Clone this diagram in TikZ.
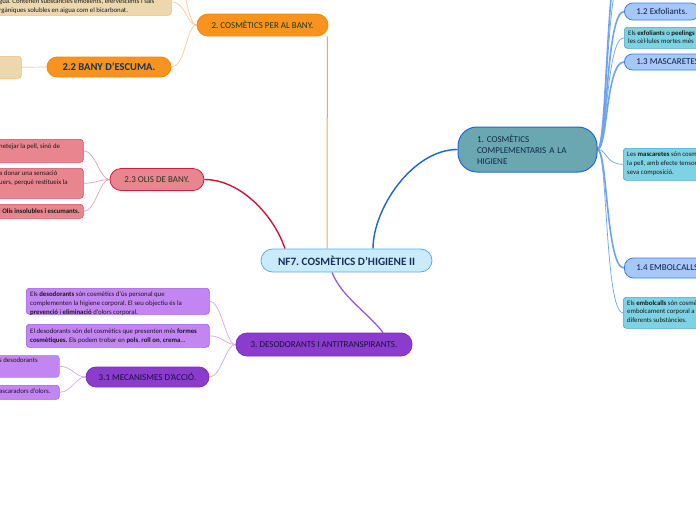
\documentclass[tikz,border=0pt]{standalone}
\usepackage{fontspec}
\setmainfont{Carlito}
\pgfdeclarelayer{bg}
\pgfsetlayers{bg,main}
\definecolor{cenfill}{HTML}{C9EBFB}
\definecolor{cendraw}{HTML}{58AEE8}
\definecolor{centext}{HTML}{17305A}
\definecolor{onefill}{HTML}{6BA7B1}
\definecolor{onedraw}{HTML}{1F68D6}
\definecolor{onetext}{HTML}{0F2A4A}
\definecolor{hbfill}{HTML}{A7C7F7}
\definecolor{hbdraw}{HTML}{3C7FE4}
\definecolor{hbtext}{HTML}{0C2048}
\definecolor{tbfill}{HTML}{7DD2E4}
\definecolor{tbdraw}{HTML}{4AA6D0}
\definecolor{orfill}{HTML}{F7931E}
\definecolor{ordraw}{HTML}{F08A10}
\definecolor{grtext}{HTML}{1D3B1D}
\definecolor{befill}{HTML}{ECD8AC}
\definecolor{bedraw}{HTML}{F4B870}
\definecolor{pkfill}{HTML}{E9858E}
\definecolor{pkdraw}{HTML}{CC1F3D}
\definecolor{pkdraw2}{HTML}{D84A64}
\definecolor{pufill}{HTML}{8C3CCC}
\definecolor{pudraw}{HTML}{7B2FBF}
\definecolor{putext}{HTML}{1A1040}
\definecolor{lpfill}{HTML}{C385F2}
\definecolor{lpdraw}{HTML}{A45AE4}
\definecolor{lpblue}{HTML}{7AA0F0}
\definecolor{txtc}{HTML}{1A1A1A}
\definecolor{lnblue}{HTML}{1E62D0}
\definecolor{lnlblue}{HTML}{6EA3EE}
\definecolor{lnorange}{HTML}{F7A35C}
\definecolor{lnlorange}{HTML}{F8C898}
\definecolor{lnred}{HTML}{C8173A}
\definecolor{lnpink}{HTML}{E8A0A8}
\definecolor{lnpurple}{HTML}{9B4FD8}
\definecolor{lnlpurple}{HTML}{D4A8F2}
\newcommand\tstrut{\rule{0pt}{5.2pt}}
\begin{document}
\frenchspacing
\begin{tikzpicture}[x=1pt,y=-1pt,
  pill/.style={draw, line width=0.8pt, inner sep=0pt, align=center},
  bx/.style={draw, line width=0.6pt, rounded corners=3pt, inner sep=0pt, anchor=north west},
  tx/.style={anchor=north west, inner sep=0pt, align=left, font=\fontsize{6.8}{8.8}\selectfont\frenchspacing, text=txtc},
  hf/.style={font=\fontsize{9}{10.8}\selectfont\frenchspacing},
  mainln/.style={line width=1.4pt},
  subln/.style={line width=0.7pt}
]
\useasboundingbox (0,0) rectangle (696,520);
\clip (0,0) rectangle (696,520);

% central
\node[pill, fill=cenfill, draw=cendraw, rounded corners=11.5pt, minimum width=171pt, minimum height=23pt,
  font=\fontsize{11.2}{13}\selectfont\bfseries\frenchspacing, text=centext] (cen) at (346.5,260.5) {NF7. COSMÈTICS D'HIGIENE II};

% branch 1
\node[pill, fill=onefill, draw=onedraw, line width=1pt, rounded corners=19pt, minimum height=45pt, text width=101pt,
  inner xsep=19pt, align=left, hf, text=onetext] (n1) at (527.5,149.5) {1. COSMÈTICS\\COMPLEMENTARIS A LA\\HIGIENE};
\coordinate (up11) at (624,-60);
\coordinate (up11t) at (624,-32);
\node[pill, fill=hbfill, draw=hbdraw, rounded corners=8.5pt, minimum height=17pt, inner xsep=12pt, anchor=west, hf, text=hbtext] (h12) at (624,11.5) {1.2 Exfoliants.};
\node[bx, fill=tbfill, draw=tbdraw, minimum width=116pt, minimum height=21pt] (t12) at (624,27) {};
\node[tx] (t12x) at (628,29.7) {\tstrut Els \textbf{exfoliants} o \textbf{peelings}\\les cèl·lules mortes més};
\node[pill, fill=hbfill, draw=hbdraw, rounded corners=8pt, minimum height=16pt, inner xsep=12pt, anchor=west, hf, text=hbtext] (h13) at (624,62) {1.3 MASCARETES};
\node[bx, fill=tbfill, draw=tbdraw, minimum width=117pt, minimum height=32pt] (t13) at (623,148) {};
\node[tx] (t13x) at (627,151.4) {\tstrut Les \textbf{mascaretes} són cosmètics\\la pell, amb efecte tensor\\seva composició.};
\node[pill, fill=hbfill, draw=hbdraw, rounded corners=9pt, minimum height=20pt, inner xsep=12pt, anchor=west, hf, text=hbtext] (h14) at (624,268) {1.4 EMBOLCALLS};
\node[bx, fill=tbfill, draw=tbdraw, minimum width=117pt, minimum height=31pt] (t14) at (623,297) {};
\node[tx] (t14x) at (627,299.7) {\tstrut Els \textbf{embolcalls} són cosmètics\\embolcament corporal a\\diferents substàncies.};

% branch 2
\node[pill, fill=orfill, draw=ordraw, rounded corners=11pt, minimum width=131pt, minimum height=22pt, hf, text=grtext] (n2) at (262.5,25) {2. COSMÈTICS PER AL BANY.};
\coordinate (up21) at (171,-30);
\node[bx, fill=befill, draw=bedraw, minimum width=181pt, minimum height=27pt] (bgt) at (-10,-12) {};
\node[tx] (bgtx) at (-1,-1.9) {\tstrut gua. Contenen substàncies emolients, efervescents i sals\\rgàniques solubles en aigua com el bicarbonat.};
\node[pill, fill=orfill, draw=ordraw, rounded corners=10pt, minimum width=124pt, minimum height=20pt,
  font=\fontsize{10.5}{12}\selectfont\bfseries\frenchspacing, text=centext] (n22) at (109,67) {2.2 BANY D'ESCUMA.};
\node[bx, fill=befill, draw=bedraw, minimum width=31pt, minimum height=22pt] (bg22) at (-10,56) {};

% branch 2.3
\node[pill, fill=pkfill, draw=pkdraw, rounded corners=11pt, minimum width=94pt, minimum height=22pt, hf, text=grtext] (n23) at (157,179.5) {2.3 OLIS DE BANY.};
\node[bx, fill=pkfill, draw=pkdraw2, minimum width=93pt, minimum height=23pt] (p1) at (-10,139) {};
\node[tx] (p1x) at (-1,143.1) {\tstrut netejar la pell, sinó de};
\node[bx, fill=pkfill, draw=pkdraw2, minimum width=93pt, minimum height=30pt] (p2) at (-10,168) {};
\node[tx] (p2x) at (-1,170.4) {\tstrut a donar una sensació\\uers, perquè restitueix la};
\node[bx, fill=pkfill, draw=pkdraw2, minimum width=93pt, minimum height=14pt] (p3) at (-10,204) {};
\node[tx] (p3x) at (-1,208.1) {\tstrut i \textbf{Olis insolubles i escumants.}};

% branch 3
\node[pill, fill=pufill, draw=pudraw, rounded corners=11pt, minimum width=176pt, minimum height=23pt, hf, text=putext] (n3) at (324,344.5) {3. DESODORANTS I ANTITRANSPIRANTS.};
\node[bx, fill=lpfill, draw=lpdraw, minimum width=183pt, minimum height=26pt] (d1) at (26,288) {};
\node[tx] (d1x) at (30,291.4) {\tstrut Els \textbf{desodorants} són cosmètics d'ús personal que\\complementen la higiene corporal. El seu objectiu és la\\\textbf{prevenció} i \textbf{eliminació} d'olors corporal.};
\node[bx, fill=lpfill, draw=lpdraw, minimum width=183pt, minimum height=23pt] (d2) at (26,324) {};
\node[tx] (d2x) at (30,328.1) {\tstrut El desodorants són del cosmètics que presenten més \textbf{formes}\\\textbf{cosmètiques.} Els podem trobar en \textbf{pols}, \textbf{roll on}, \textbf{crema}...};
\node[pill, fill=pufill, draw=pudraw, rounded corners=10pt, minimum width=123pt, minimum height=20pt, hf, text=putext] (n31) at (147.5,377) {3.1 MECANISMES D'ACCIÓ.};
\node[bx, fill=lpfill, draw=lpblue, minimum width=69pt, minimum height=22pt] (l1) at (-10,355) {};
\node[tx] (l1x) at (-1,357.4) {\tstrut s desodorants};
\node[bx, fill=lpfill, draw=lpdraw, minimum width=69pt, minimum height=14pt] (l2) at (-10,385) {};
\node[tx] (l2x) at (-1,388.4) {\tstrut ascaradors d'olors.};

\begin{pgfonlayer}{bg}
\fill[white] (0,0) rectangle (696,520);
% main connectors
\draw[mainln, lnblue] ([xshift=26.5pt]cen.north) .. controls +(0,-40) and +(-45,0) .. (n1.west);
\draw[line width=1pt, lnorange] ([xshift=-19.5pt]cen.north) -- ([xshift=-1pt]n2.south east);
\draw[mainln, lnred] ([xshift=-61.5pt]cen.north) .. controls +(-12,-35) and +(35,0) .. (n23.east);
\draw[line width=1.2pt, lnpurple] ([xshift=-14.5pt]cen.south) .. controls +(10,25) and +(-15,-20) .. ([xshift=59pt]n3.north);
% branch 1 fan
\draw[line width=1.6pt, lnlblue] (n1.east) .. controls +(10,0) and +(-18,0) .. (up11);
\draw[subln, lnlblue] (n1.east) .. controls +(10,0) and +(-18,0) .. (up11t);
\foreach \t in {h12,h13,h14}
  \draw[line width=1.6pt, lnlblue] (n1.east) .. controls +(10,0) and +(-18,0) .. (\t.west);
\foreach \t in {t12,t13,t14}
  \draw[subln, lnlblue] (n1.east) .. controls +(10,0) and +(-18,0) .. (\t.west);
% branch 2 fan
\draw[subln, lnlorange] (n2.west) .. controls +(-10,0) and +(14,0) .. (up21);
\foreach \t in {bgt,n22}
  \draw[subln, lnlorange] (n2.west) .. controls +(-10,0) and +(14,0) .. (\t.east);
\draw[subln, lnlorange] (n22.west) -- (bg22.east);
% branch 2.3 fan
\foreach \t in {p1,p2,p3}
  \draw[subln, lnpink] (n23.west) .. controls +(-10,0) and +(12,0) .. (\t.east);
% branch 3 fan
\foreach \t in {d1,d2,n31}
  \draw[subln, lnlpurple] (n3.west) .. controls +(-10,0) and +(12,0) .. (\t.east);
\foreach \t in {l1,l2}
  \draw[subln, lnlpurple] (n31.west) .. controls +(-10,0) and +(12,0) .. (\t.east);
\end{pgfonlayer}
\end{tikzpicture}
\end{document}
